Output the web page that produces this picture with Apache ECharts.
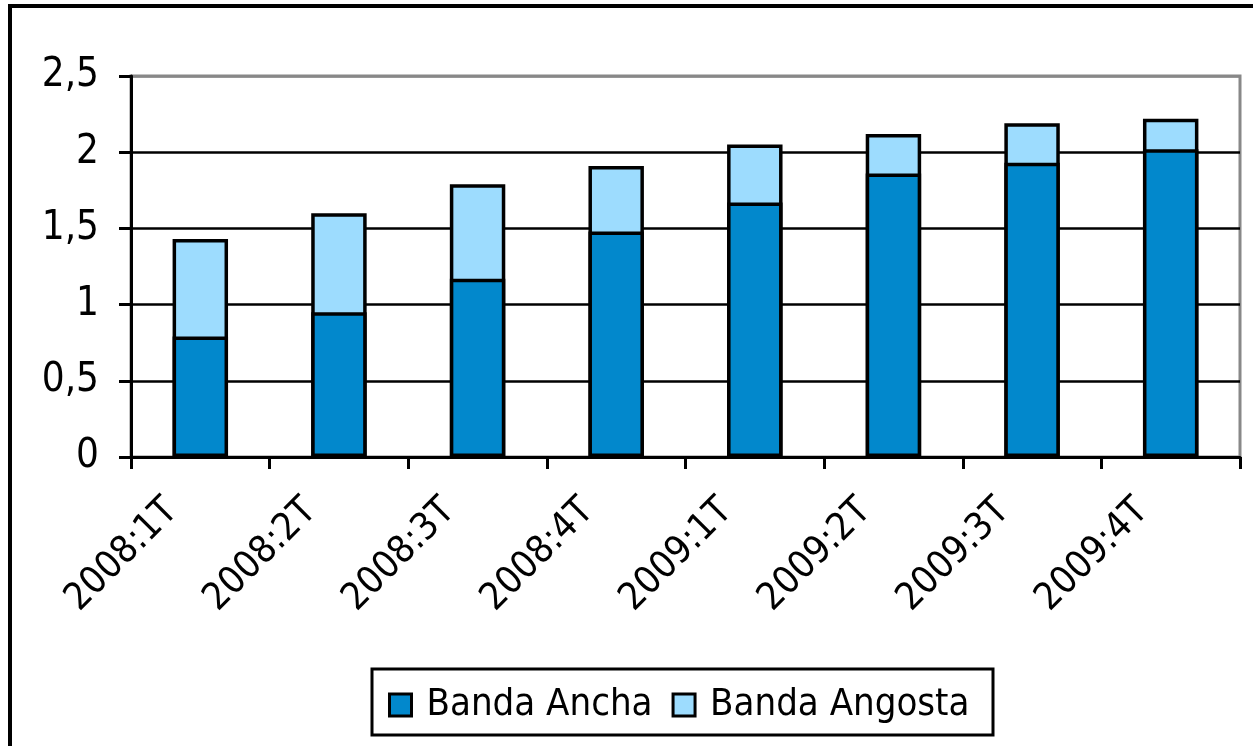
<!DOCTYPE html>
<html>
<head>
<meta charset="utf-8">
<script src="https://cdn.jsdelivr.net/npm/echarts@6/dist/echarts.min.js"></script>
<style>
html,body{margin:0;padding:0;background:#fff;}
#chart{width:1253px;height:746px;}
</style>
</head>
<body>
<div id="chart"></div>
<script>
const categories = ['2008:1T','2008:2T','2008:3T','2008:4T','2009:1T','2009:2T','2009:3T','2009:4T'];
const bandaAncha = [0.79, 0.95, 1.17, 1.48, 1.67, 1.86, 1.93, 2.02];
const bandaAngosta = [0.64, 0.65, 0.62, 0.43, 0.38, 0.26, 0.26, 0.20];
const seriesNames = ['Banda Ancha', 'Banda Angosta'];
const yTicks = [0, 0.5, 1, 1.5, 2, 2.5];

// stacked total (top of light segment) built from the two series
const stackTotal = bandaAncha.map((v, i) => +(v + bandaAngosta[i]).toFixed(2));

const FONT = '"DejaVu Sans Condensed", "Noto Sans", sans-serif';
const DARK = '#0288CC';
const LIGHT = '#9DDCFE';
const chart = echarts.init(document.getElementById('chart'), null, {renderer: 'canvas'});
const option = {
  backgroundColor: '#fff',
  animation: false,
  textStyle: {fontFamily: FONT, color: '#000'},
  grid: {left: 131, right: 13, top: 76, bottom: 289, show: true, borderColor: '#888', borderWidth: 3, backgroundColor: 'transparent'},
  xAxis: {
    type: 'category',
    data: categories,
    boundaryGap: true,
    axisLine: {lineStyle: {color: '#000', width: 3}},
    axisTick: {show: true, length: 12, lineStyle: {color: '#000', width: 3}},
    axisLabel: {rotate: 45, fontSize: 38, fontFamily: FONT, color: '#000', margin: 20, padding: [0, 40, 0, 0], interval: 0}
  },
  yAxis: {
    type: 'value',
    min: yTicks[0],
    max: yTicks[yTicks.length - 1],
    interval: 0.5,
    axisLine: {show: true, lineStyle: {color: '#000', width: 3}},
    axisTick: {show: true, length: 12, lineStyle: {color: '#000', width: 3}},
    axisLabel: {fontSize: 40, fontFamily: FONT, color: '#000', margin: 32,
      formatter: v => String(v).replace('.', ',')},
    splitLine: {show: true, lineStyle: {color: ['#000','#000','#000','#000','#000','#888'], width: 2.5}}
  },
  legend: {
    left: 383, top: 681,
    icon: 'rect',
    itemWidth: 22, itemHeight: 22, itemGap: 19,
    data: [
      {name: seriesNames[0], itemStyle: {color: DARK, borderColor: '#000', borderWidth: 3}},
      {name: seriesNames[1], itemStyle: {color: LIGHT, borderColor: '#000', borderWidth: 3}}
    ],
    textStyle: {fontSize: 38, fontFamily: FONT, color: '#000', padding: [0, 0, 0, 10]}
  },
  graphic: [
    {type: 'rect', shape: {x: 10, y: 6, width: 1300, height: 800}, style: {fill: 'none', stroke: '#000', lineWidth: 4}, silent: true, z: 100},
    {type: 'rect', shape: {x: 372, y: 669, width: 621, height: 66}, style: {fill: 'none', stroke: '#000', lineWidth: 3}, silent: true, z: 100}
  ],
  series: [
    {name: seriesNames[1], type: 'bar', data: stackTotal, barWidth: '40%', barGap: '-100%', z: 2,
      itemStyle: {color: LIGHT, borderColor: '#000', borderWidth: 3.5}},
    {name: seriesNames[0], type: 'bar', data: bandaAncha, barWidth: '40%', barGap: '-100%', z: 3,
      itemStyle: {color: DARK, borderColor: '#000', borderWidth: 3.5}}
  ]
};
chart.setOption(option);
</script>
</body>
</html>
